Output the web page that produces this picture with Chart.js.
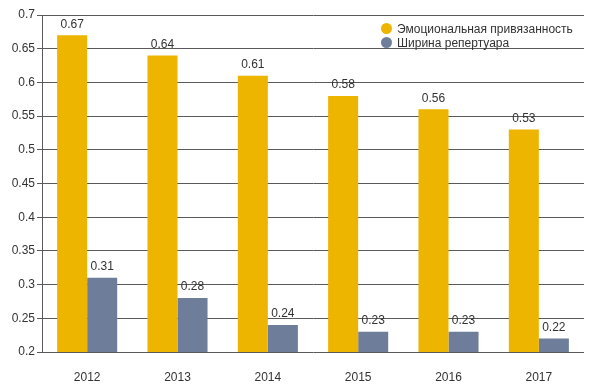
<!DOCTYPE html>
<html>
<head>
<meta charset="utf-8">
<script src="https://cdn.jsdelivr.net/npm/chart.js@4/dist/chart.umd.min.js"></script>
<style>
    body { margin: 0; background: #fff; }
    #wrap { position: relative; width: 594px; height: 384px; }
    #legend { position: absolute; left: 381px; top: 22px; font: 12px "Liberation Sans", Arial, sans-serif; color: #333; }
    #legend div { height: 14px; line-height: 14px; white-space: nowrap; }
    #legend span { display: inline-block; width: 11px; height: 11px; border-radius: 50%; margin-right: 5px; vertical-align: -1px; }
</style>
</head>
<body>
<div id="wrap">
    <canvas id="chart" width="594" height="384"></canvas>
    <div id="legend"></div>
</div>
<script>
var years = ['2012', '2013', '2014', '2015', '2016', '2017'];
var emotional = [0.67, 0.64, 0.61, 0.58, 0.56, 0.53];
var repertoire = [0.31, 0.28, 0.24, 0.23, 0.23, 0.22];
var seriesNames = ['Эмоциональная привязанность', 'Ширина репертуара'];
var seriesColors = ['#EDB400', '#6E7D99'];

// Labels above each bar
var valueLabels = {
    id: 'valueLabels',
    afterDatasetsDraw: function(chart) {
        var ctx = chart.ctx;
        ctx.save();
        ctx.font = '12px "Liberation Sans", Arial, sans-serif';
        ctx.fillStyle = '#333';
        ctx.textAlign = 'center';
        ctx.textBaseline = 'bottom';
        chart.data.datasets.forEach(function(ds, i) {
            chart.getDatasetMeta(i).data.forEach(function(bar, j) {
                ctx.fillText(String(ds.data[j]), bar.x, bar.y - 5);
            });
        });
        ctx.restore();
    }
};

var chart = new Chart(document.getElementById('chart'), {
    type: 'bar',
    data: {
        labels: years,
        datasets: [{
            label: seriesNames[0],
            data: emotional,
            backgroundColor: seriesColors[0]
        }, {
            label: seriesNames[1],
            data: repertoire,
            backgroundColor: seriesColors[1]
        }]
    },
    options: {
        responsive: false,
        animation: false,
        layout: { padding: { top: 15, right: 10, left: 0, bottom: 0 } },
        datasets: { bar: { categoryPercentage: 0.665, barPercentage: 1 } },
        plugins: {
            legend: { display: false },
            tooltip: { enabled: false }
        },
        scales: {
            x: {
                grid: { display: false },
                border: { display: false },
                ticks: { color: '#333', padding: 10, font: { family: '"Liberation Sans", Arial, sans-serif', size: 12 } },
                afterFit: function(scale) { scale.height = 32; }
            },
            y: {
                min: 0.2,
                max: 0.7,
                ticks: {
                    stepSize: 0.05,
                    color: '#333',
                    padding: 2,
                    font: { family: '"Liberation Sans", Arial, sans-serif', size: 12 },
                    callback: function(v) { return String(Math.round(v * 100) / 100); }
                },
                grid: { color: '#5a5a5a', tickLength: 5, lineWidth: 1 },
                border: { color: '#5a5a5a' },
                afterFit: function(scale) { scale.width = 42; }
            }
        }
    },
    plugins: [valueLabels]
});

// HTML legend
var legend = document.getElementById('legend');
seriesNames.forEach(function(name, i) {
    var row = document.createElement('div');
    var dot = document.createElement('span');
    dot.style.background = seriesColors[i];
    row.appendChild(dot);
    row.appendChild(document.createTextNode(name));
    legend.appendChild(row);
});
</script>
</body>
</html>
